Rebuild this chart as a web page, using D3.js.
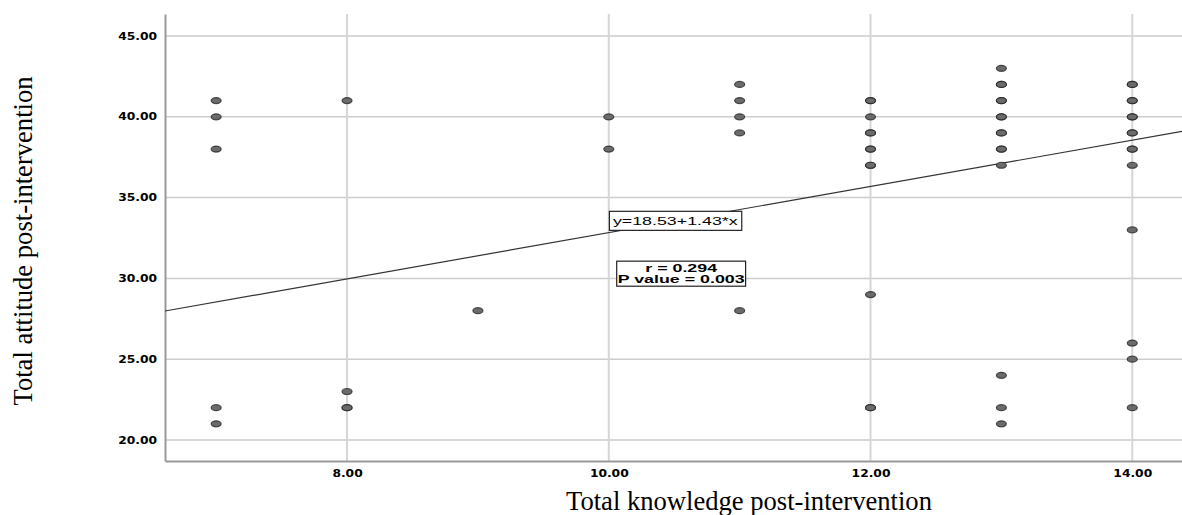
<!DOCTYPE html>
<html>
<head>
<meta charset="utf-8">
<script src="https://cdn.jsdelivr.net/npm/d3@7"></script>
<style>
  body { margin: 0; background: #fff; }
  svg { display: block; }
</style>
</head>
<body>
<svg id="chart"></svg>
<script>
// knowledge score (x) and attitude score (y), one entry per respondent
const knowledge = [
  7, 7, 7, 7, 7,
  8, 8, 8, 8,
  9,
  10, 10,
  11, 11, 11, 11, 11,
  12, 12, 12, 12, 12, 12, 12, 12, 12, 12, 12, 12,
  13, 13, 13, 13, 13, 13, 13, 13, 13, 13, 13, 13, 13, 13, 13,
  14, 14, 14, 14, 14, 14, 14, 14, 14, 14, 14, 14, 14, 14, 14
];
const attitude = [
  41, 40, 38, 22, 21,
  41, 23, 22, 22,
  28,
  40, 38,
  42, 41, 40, 39, 28,
  41, 41, 40, 39, 39, 38, 38, 37, 37, 29, 22, 22,
  43, 42, 42, 41, 41, 40, 40, 39, 39, 38, 38, 37, 24, 22, 21,
  42, 42, 41, 41, 40, 40, 39, 39, 38, 38, 37, 33, 26, 25, 22
];

const xTicks = [8, 10, 12, 14];
const yTicks = [20, 25, 30, 35, 40, 45];

// fit line as printed on the chart
const intercept = 18.53;
const slope = 1.43;
const fitLabel = "y=18.53+1.43*x";
const statLines = ["r = 0.294", "P value = 0.003"];

const xTitle = "Total knowledge post-intervention";
const yTitle = "Total attitude post-intervention";

const width = 1182, height = 515;
const stretch = 1.55; // SPSS output was pasted wider than tall
const tickStretch = 1.23;

const x = d3.scaleLinear().domain([6.609, 14.38]).range([165, 1182]);
const y = d3.scaleLinear().domain([18.70, 46.36]).range([461, 14]);

const svg = d3.select("#chart")
  .attr("width", width)
  .attr("height", height)
  .attr("viewBox", `0 0 ${width} ${height}`);

// grid
svg.append("g").selectAll("line")
  .data(yTicks)
  .enter()
  .append("line")
  .attr("x1", x.range()[0])
  .attr("x2", x.range()[1])
  .attr("y1", d => y(d))
  .attr("y2", d => y(d))
  .attr("stroke", "#cdcdcd")
  .attr("stroke-width", 1.5);

svg.append("g").selectAll("line")
  .data(xTicks)
  .enter()
  .append("line")
  .attr("x1", d => x(d))
  .attr("x2", d => x(d))
  .attr("y1", y.range()[1])
  .attr("y2", y.range()[0])
  .attr("stroke", "#d6d6d6")
  .attr("stroke-width", 2);

// axes
const tickFont = g => g.selectAll("text")
  .attr("font-family", "'DejaVu Sans', Verdana, sans-serif")
  .attr("font-weight", "bold")
  .attr("font-size", "10px")
  .attr("fill", "#000")
  .attr("transform", `scale(${tickStretch},1)`);

const yAxis = svg.append("g")
  .attr("transform", `translate(${x.range()[0]},0)`)
  .call(d3.axisLeft(y).tickValues(yTicks).tickFormat(d3.format(".2f")).tickSize(0).tickPadding(8))
  .call(tickFont);
yAxis.selectAll("text").attr("x", -8 / tickStretch);

const xAxis = svg.append("g")
  .attr("transform", `translate(0,${y.range()[0]})`)
  .call(d3.axisBottom(x).tickValues(xTicks).tickFormat(d3.format(".2f")).tickSize(0).tickPadding(9))
  .call(tickFont);

[yAxis, xAxis].forEach(a => a.select(".domain")
  .attr("stroke", "#9a9a9a")
  .attr("stroke-width", 2));

// fit line
const fit = d3.line()
  .x(d => x(d))
  .y(d => y(intercept + slope * d));
svg.append("path")
  .datum(x.domain())
  .attr("d", fit)
  .attr("fill", "none")
  .attr("stroke", "#333")
  .attr("stroke-width", 1.2);

// points
svg.append("g").selectAll("ellipse")
  .data(knowledge.map((k, i) => ({ k, a: attitude[i] })))
  .enter()
  .append("ellipse")
  .attr("cx", d => x(d.k))
  .attr("cy", d => y(d.a))
  .attr("rx", 5)
  .attr("ry", 3)
  .attr("fill", "#6b6b6b")
  .attr("stroke", "#222")
  .attr("stroke-opacity", 0.75)
  .attr("stroke-width", 1.2);

// annotation boxes
function labelBox(cx, cy, lines, weight, lineGap, padX, padY) {
  const g = svg.append("g").attr("transform", `translate(${cx},${cy})`);
  const t = g.append("g").attr("transform", `scale(${stretch},1)`)
    .append("text")
    .attr("text-anchor", "middle")
    .attr("font-family", "'Liberation Sans', Arial, sans-serif")
    .attr("font-size", "11.5px")
    .attr("font-weight", weight)
    .attr("fill", "#000");
  t.selectAll("tspan")
    .data(lines)
    .enter()
    .append("tspan")
    .attr("x", 0)
    .attr("y", (d, i) => i * lineGap)
    .text(d => d);
  const bb = g.node().getBBox();
  g.insert("rect", ":first-child")
    .attr("x", bb.x - padX)
    .attr("y", bb.y - padY)
    .attr("width", bb.width + padX * 2)
    .attr("height", bb.height + padY * 2)
    .attr("fill", "#fff")
    .attr("stroke", "#222")
    .attr("stroke-width", 1.2);
}

labelBox(x(10.508), y(33.30), [fitLabel], "normal", 0, 3.5, 3);
labelBox(x(10.553), y(30.37), statLines, "bold", 11, 1, 0.5);

// axis titles
svg.append("text")
  .attr("x", 749)
  .attr("y", 510)
  .attr("text-anchor", "middle")
  .attr("font-family", "'Liberation Serif', 'Times New Roman', serif")
  .attr("font-size", "26.6px")
  .attr("fill", "#000")
  .text(xTitle);

svg.append("text")
  .attr("transform", "translate(32,241) rotate(-90)")
  .attr("text-anchor", "middle")
  .attr("font-family", "'Liberation Serif', 'Times New Roman', serif")
  .attr("font-size", "26.6px")
  .attr("fill", "#000")
  .text(yTitle);
</script>
</body>
</html>
